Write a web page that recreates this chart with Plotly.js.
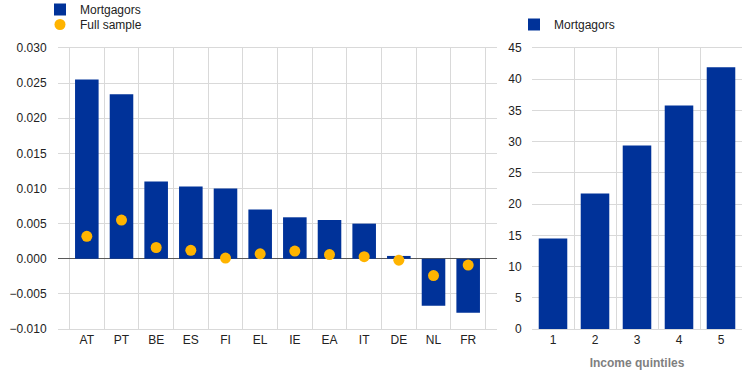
<!DOCTYPE html>
<html>
<head>
<meta charset="utf-8">
<script src="https://cdn.plot.ly/plotly-3.0.1.min.js"></script>
<style>html,body{margin:0;padding:0;background:#fff;}#chart{width:745px;height:373px;}</style>
</head>
<body>
<div id="chart"></div>
<script>
// Left panel: countries
const countries = ["AT","PT","BE","ES","FI","EL","IE","EA","IT","DE","NL","FR"];
const mortgagors = [0.0255,0.0234,0.0110,0.0103,0.0100,0.0070,0.0059,0.0055,0.0050,0.0004,-0.0067,-0.0077];
const fullSample = [0.0032,0.0055,0.0016,0.0012,0.0001,0.0007,0.0011,0.0006,0.0003,-0.0002,-0.0024,-0.0009];
// Right panel: income quintiles
const quintiles = ["1","2","3","4","5"];
const mortgagorsQ = [14.5,21.7,29.4,35.8,41.9];

const W = 745, H = 373;
const BLUE = "#003299", YELLOW = "#FFB400", GRID = "#d9d9d9";
const font = {family: "Liberation Sans, Arial, sans-serif", size: 12, color: "#222"};

const traces = [
  {type:"bar", x:countries, y:mortgagors, name:"Mortgagors", marker:{color:BLUE},
   xaxis:"x", yaxis:"y", legend:"legend"},
  {type:"scatter", mode:"markers", x:countries, y:fullSample, name:"Full sample",
   marker:{color:YELLOW, size:11}, xaxis:"x", yaxis:"y", legend:"legend3"},
  {type:"bar", x:quintiles, y:mortgagorsQ, name:"Mortgagors", marker:{color:BLUE},
   xaxis:"x2", yaxis:"y2", legend:"legend2"}
];

const L = 58, R = 3, T = 48, B = 44;
const pw = W - L - R, ph = H - T - B;
const px = v => (v - L) / pw;
const py = v => 1 + (T - v) / ph;
const hide = "rgba(0,0,0,0)";
const layout = {
  width: W, height: H,
  margin: {l: L, r: R, t: T, b: B, autoexpand: false},
  paper_bgcolor: "#fff", plot_bgcolor: "#fff",
  font: font,
  bargap: 0.32,
  xaxis: {domain: [0, 439/pw], type:"category", tickson:"boundaries", showgrid:true,
          gridcolor: GRID, showline:true, mirror:true, linecolor: GRID,
          ticks:"outside", ticklen:3, tickcolor: hide,
          tickangle: 0, automargin:false, tickfont: font, fixedrange:true},
  yaxis: {range:[-0.010, 0.030], dtick:0.005, tickformat:".3f", showgrid:true, gridcolor: GRID,
          zeroline:true, zerolinecolor:"#595959", zerolinewidth:1, showline:false,
          automargin:false, ticks:"outside", ticklen:8, tickcolor: hide, tickfont: font, fixedrange:true},
  xaxis2: {domain: [px(532), 1], type:"category", tickson:"boundaries", showgrid:true,
           gridcolor: GRID, showline:true, mirror:true, linecolor: GRID,
           ticks:"outside", ticklen:3, tickcolor: hide,
           anchor:"y2", tickangle: 0, automargin:false, tickfont: font,
           title:{text:"<b>Income quintiles</b>", font:{family: font.family, size:12, color:"#7f7f7f"}, standoff: 12},
           fixedrange:true},
  yaxis2: {anchor:"x2", range:[0,45], dtick:5, showgrid:true, gridcolor: GRID,
           zeroline:false, showline:false, automargin:false,
           ticks:"outside", ticklen:7, tickcolor: hide, tickfont: font, fixedrange:true},
  legend: {x: px(40), y: py(-5), xanchor:"left", yanchor:"top",
           bgcolor: hide, font: font},
  legend3: {x: px(40), y: py(10), xanchor:"left", yanchor:"top",
           bgcolor: hide, font: font},
  legend2: {x: px(514), y: py(10), xanchor:"left", yanchor:"top",
           bgcolor: hide, font: font},
  showlegend: true
};

Plotly.newPlot("chart", traces, layout, {displayModeBar:false, staticPlot:true});
</script>
</body>
</html>
